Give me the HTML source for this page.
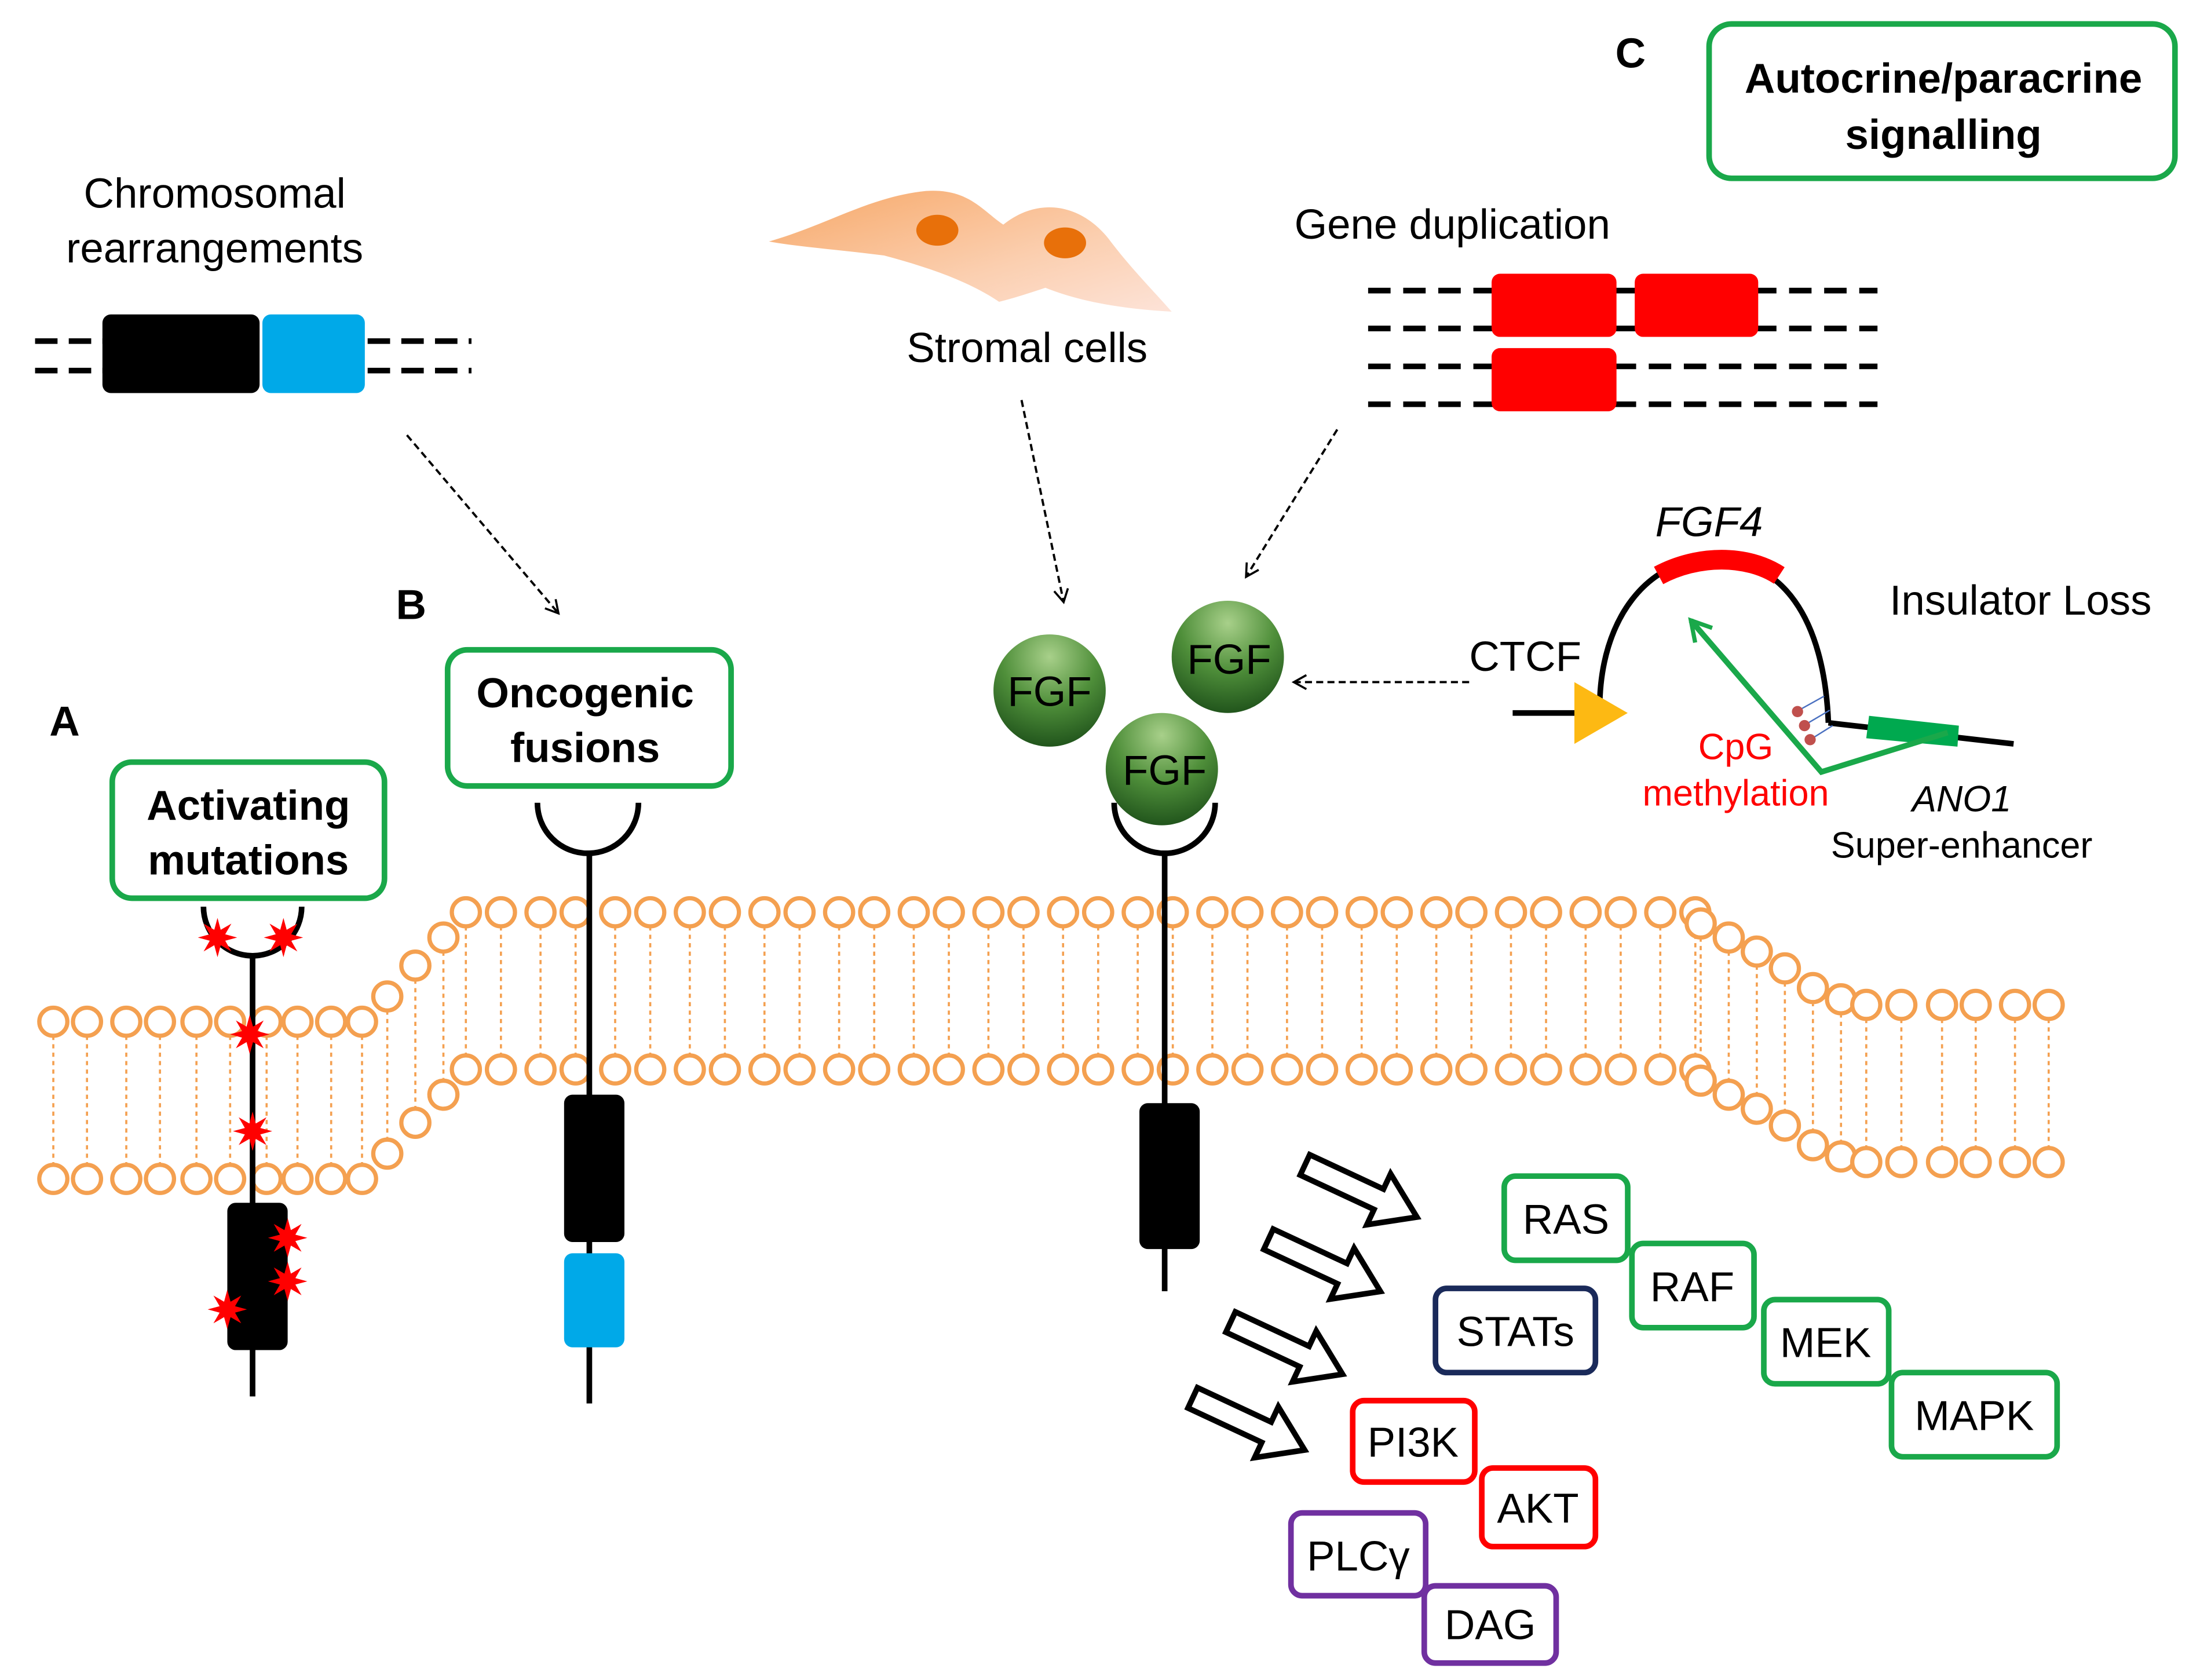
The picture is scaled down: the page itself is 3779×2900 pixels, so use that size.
<!DOCTYPE html>
<html><head><meta charset="utf-8"><style>
html,body{margin:0;padding:0;background:#fff;}
svg{display:block;}
text{font-family:"Liberation Sans",Arial,sans-serif;}
</style></head><body>
<svg id="s" xmlns="http://www.w3.org/2000/svg" width="3779" height="2900" viewBox="0 0 1560 1197">
<defs>
<radialGradient id="g" cx="0.5" cy="0.2" r="0.85">
<stop offset="0" stop-color="#a8d08a"/><stop offset="0.5" stop-color="#4f8f3a"/><stop offset="1" stop-color="#1b4d18"/>
</radialGradient>
<linearGradient id="cell" x1="0" y1="0" x2="1" y2="1">
<stop offset="0" stop-color="#f7a868"/><stop offset="0.6" stop-color="#fbcfb0"/><stop offset="1" stop-color="#fde3d8"/>
</linearGradient>
<marker id="ah" markerWidth="12" markerHeight="12" refX="10" refY="6" orient="auto" markerUnits="userSpaceOnUse">
<path d="M1,1 L10,6 L1,11" fill="none" stroke="#000" stroke-width="1.5"/></marker>
<marker id="gh" markerWidth="20" markerHeight="20" refX="16" refY="10" orient="auto" markerUnits="userSpaceOnUse">
<path d="M2,2 L16,10 L2,18" fill="none" stroke="#1aa84a" stroke-width="3"/></marker>
</defs>
<g id="mem"></g>

<!-- Chromosomal rearrangements -->
<text x="153" y="148" font-size="30" text-anchor="middle">Chromosomal</text>
<text x="153" y="187" font-size="30" text-anchor="middle">rearrangements</text>
<g stroke="#000" stroke-width="4" stroke-dasharray="16,8">
<line x1="25" y1="243" x2="75" y2="243"/><line x1="25" y1="264" x2="75" y2="264"/>
<line x1="262" y1="243" x2="336" y2="243"/><line x1="262" y1="264" x2="336" y2="264"/>
</g>
<rect x="73" y="224" width="112" height="56" rx="6" fill="#000"/>
<rect x="187" y="224" width="73" height="56" rx="6" fill="#00a9e8"/>

<!-- Stromal cells -->
<path d="M548,172 C590,160 620,140 660,136 C690,134 700,150 715,160 C740,140 770,145 790,170 C805,190 820,205 835,222 C800,220 770,215 745,205 C730,210 720,213 712,215 C690,200 660,190 630,182 C600,178 570,176 548,172 Z" fill="url(#cell)"/>
<ellipse cx="668" cy="164" rx="15" ry="11" fill="#e8700a"/>
<ellipse cx="759" cy="173" rx="15" ry="11" fill="#e8700a"/>
<text x="732" y="258" font-size="30" text-anchor="middle">Stromal cells</text>

<!-- Gene duplication -->
<text x="1035" y="170" font-size="30" text-anchor="middle">Gene duplication</text>
<g stroke="#000" stroke-width="4" stroke-dasharray="16,9">
<line x1="975" y1="207" x2="1338" y2="207"/><line x1="975" y1="234" x2="1338" y2="234"/>
<line x1="975" y1="261" x2="1338" y2="261"/><line x1="975" y1="288" x2="1338" y2="288"/>
</g>
<rect x="1063" y="195" width="89" height="45" rx="6" fill="#f00"/>
<rect x="1165" y="195" width="88" height="45" rx="6" fill="#f00"/>
<rect x="1063" y="248" width="89" height="45" rx="6" fill="#f00"/>

<!-- dashed arrows -->
<g stroke="#000" stroke-width="1.6" stroke-dasharray="5,3" fill="none" marker-end="url(#ah)">
<line x1="290" y1="310" x2="398" y2="437"/>
<line x1="728" y1="285" x2="758" y2="429"/>
<line x1="953" y1="306" x2="888" y2="411"/>
<line x1="1047" y1="486" x2="922" y2="486"/>
</g>

<!-- labels -->
<text x="46" y="524" font-size="30" font-weight="bold" text-anchor="middle">A</text>
<text x="293" y="441" font-size="30" font-weight="bold" text-anchor="middle">B</text>
<text x="1162" y="48" font-size="30" font-weight="bold" text-anchor="middle">C</text>
<g fill="#fff" stroke="#1aa84a" stroke-width="4">
<rect x="80" y="543" width="194" height="97" rx="14"/>
<rect x="319" y="463" width="202" height="97" rx="14"/>
<rect x="1218" y="17" width="332" height="110" rx="16"/>
</g>
<g font-size="30" font-weight="bold" text-anchor="middle">
<text x="177" y="584">Activating</text><text x="177" y="623">mutations</text>
<text x="417" y="504">Oncogenic</text><text x="417" y="543">fusions</text>
<text x="1385" y="66">Autocrine/paracrine</text><text x="1385" y="106">signalling</text>
</g>

<!-- receptor A -->
<path d="M145,646 A35,35 0 0 0 215,646" fill="none" stroke="#000" stroke-width="4"/>
<line x1="180" y1="680" x2="180" y2="995" stroke="#000" stroke-width="4"/>
<rect x="162" y="857" width="43" height="105" rx="6" fill="#000"/>
<!-- receptor B -->
<path d="M383,572 A36,36 0 0 0 455,572" fill="none" stroke="#000" stroke-width="4"/>
<line x1="420" y1="606" x2="420" y2="1000" stroke="#000" stroke-width="4"/>
<rect x="402" y="780" width="43" height="105" rx="6" fill="#000"/>
<rect x="402" y="893" width="43" height="67" rx="6" fill="#00a9e8"/>
<!-- receptor C -->
<line x1="830" y1="606" x2="830" y2="920" stroke="#000" stroke-width="4"/>
<rect x="812" y="786" width="43" height="104" rx="6" fill="#000"/>
<circle cx="748" cy="492" r="40" fill="url(#g)"/>
<circle cx="875" cy="468" r="40" fill="url(#g)"/>
<circle cx="828" cy="548" r="40" fill="url(#g)"/>
<path d="M794,572 A36,36 0 0 0 866,572" fill="none" stroke="#000" stroke-width="4"/>
<g font-size="30" text-anchor="middle">
<text x="748" y="503">FGF</text><text x="876" y="480">FGF</text><text x="830" y="559">FGF</text>
</g>
<g id="stars" fill="#f00"></g>

<!-- Insulator -->
<path d="M1140,505 C1140,440 1175,398 1220,398 C1270,398 1300,440 1303,515" fill="none" stroke="#000" stroke-width="4"/>
<path d="M1182,410 C1210,395 1245,395 1268,410" fill="none" stroke="#f00" stroke-width="14"/>
<line x1="1078" y1="508" x2="1140" y2="508" stroke="#000" stroke-width="4"/>
<polygon points="1122,486 1122,530 1160,508" fill="#fdb913"/>
<line x1="1303" y1="515" x2="1435" y2="530" stroke="#000" stroke-width="4"/>
<polygon points="1332,510 1396,517 1395,532 1330,526" fill="#00a94f"/>
<polyline points="1388,522 1298,550 1205,442" fill="none" stroke="#1aa84a" stroke-width="4" marker-end="url(#gh)"/>
<g stroke="#4a70c0" stroke-width="1"><line x1="1282" y1="506" x2="1300" y2="496"/><line x1="1287" y1="516" x2="1304" y2="506"/><line x1="1290" y1="527" x2="1306" y2="517"/></g>
<g fill="#c0504d"><circle cx="1281" cy="507" r="4"/><circle cx="1286" cy="517" r="4"/><circle cx="1290" cy="527" r="4"/></g>
<text x="1218" y="382" font-size="30" font-style="italic" text-anchor="middle">FGF4</text>
<text x="1440" y="438" font-size="30" text-anchor="middle">Insulator Loss</text>
<text x="1087" y="478" font-size="30" text-anchor="middle">CTCF</text>
<text x="1237" y="541" font-size="26" fill="#f00" text-anchor="middle">CpG</text>
<text x="1237" y="574" font-size="26" fill="#f00" text-anchor="middle">methylation</text>
<text x="1398" y="578" font-size="26" font-style="italic" text-anchor="middle">ANO1</text>
<text x="1398" y="611" font-size="26" text-anchor="middle">Super-enhancer</text>

<!-- hollow arrows -->
<g fill="#fff" stroke="#000" stroke-width="4" stroke-linejoin="miter">
<polygon transform="translate(930,830) rotate(25)" points="0,-8 58,-8 58,-20 88,0 58,20 58,8 0,8"/>
<polygon transform="translate(904,883) rotate(25)" points="0,-8 58,-8 58,-20 88,0 58,20 58,8 0,8"/>
<polygon transform="translate(877,942) rotate(25)" points="0,-8 58,-8 58,-20 88,0 58,20 58,8 0,8"/>
<polygon transform="translate(850,996) rotate(25)" points="0,-8 58,-8 58,-20 88,0 58,20 58,8 0,8"/>
</g>

<!-- pathway boxes -->
<g fill="#fff" stroke-width="4">
<rect x="1072" y="838" width="88" height="60" rx="8" stroke="#1aa84a"/>
<rect x="1163" y="886" width="87" height="60" rx="8" stroke="#1aa84a"/>
<rect x="1257" y="926" width="89" height="60" rx="8" stroke="#1aa84a"/>
<rect x="1348" y="978" width="118" height="60" rx="8" stroke="#1aa84a"/>
<rect x="1023" y="918" width="114" height="60" rx="8" stroke="#1a2a5a"/>
<rect x="964" y="998" width="87" height="58" rx="8" stroke="#f00"/>
<rect x="1056" y="1046" width="81" height="56" rx="8" stroke="#f00"/>
<rect x="920" y="1078" width="96" height="59" rx="8" stroke="#7030a0"/>
<rect x="1015" y="1130" width="94" height="55" rx="8" stroke="#7030a0"/>
</g>
<g font-size="30" text-anchor="middle">
<text x="1116" y="879">RAS</text><text x="1206" y="927">RAF</text><text x="1301" y="967">MEK</text>
<text x="1407" y="1019">MAPK</text><text x="1080" y="959">STATs</text><text x="1007" y="1038">PI3K</text>
<text x="1096" y="1085">AKT</text><text x="968" y="1119">PLCγ</text><text x="1062" y="1168">DAG</text>
</g>
</svg>
<script>
var NS="http://www.w3.org/2000/svg",mem=document.getElementById('mem'),h='';
var C='#f4a050';
function head(x,y){h+='<circle cx="'+x+'" cy="'+y+'" r="10" fill="#fff" stroke="'+C+'" stroke-width="3"/>';}
function tail(x,y1,y2){h+='<line x1="'+x+'" y1="'+y1+'" x2="'+x+'" y2="'+y2+'" stroke="'+C+'" stroke-width="1.5" stroke-dasharray="3,3"/>';}
var pts=[];
// left flat
[38,62,90,114,140,164,190,212,236,258].forEach(function(x){pts.push([x,728]);});
// left slope
[[276,710],[296,688],[316,668]].forEach(function(p){pts.push(p);});
// middle
for(var x=332;x<=1195;x+=53.2){pts.push([x,650]);pts.push([x+25,650]);}
// right slope
[[1212,658],[1232,668],[1252,678],[1272,690],[1292,704],[1312,712]].forEach(function(p){pts.push(p);});
// right flat
[1330,1355,1384,1408,1436,1460].forEach(function(x){pts.push([x,716]);});
pts.forEach(function(p){tail(p[0],p[1]+10,p[1]+102);});
pts.forEach(function(p){head(p[0],p[1]);head(p[0],p[1]+112);});
// stars
function star(cx,cy){var s='';for(var i=0;i<16;i++){var r=i%2?6:14,a=i*Math.PI/8;s+=(cx+r*Math.cos(a)).toFixed(1)+','+(cy+r*Math.sin(a)).toFixed(1)+' ';}return '<polygon points="'+s+'"/>';}
mem.innerHTML=h;
var st='';[[155,668],[202,668],[178,737],[180,806],[205,882],[205,913],[162,933]].forEach(function(p){st+=star(p[0],p[1]);});
document.getElementById('stars').innerHTML=st;
</script>
</body></html>
